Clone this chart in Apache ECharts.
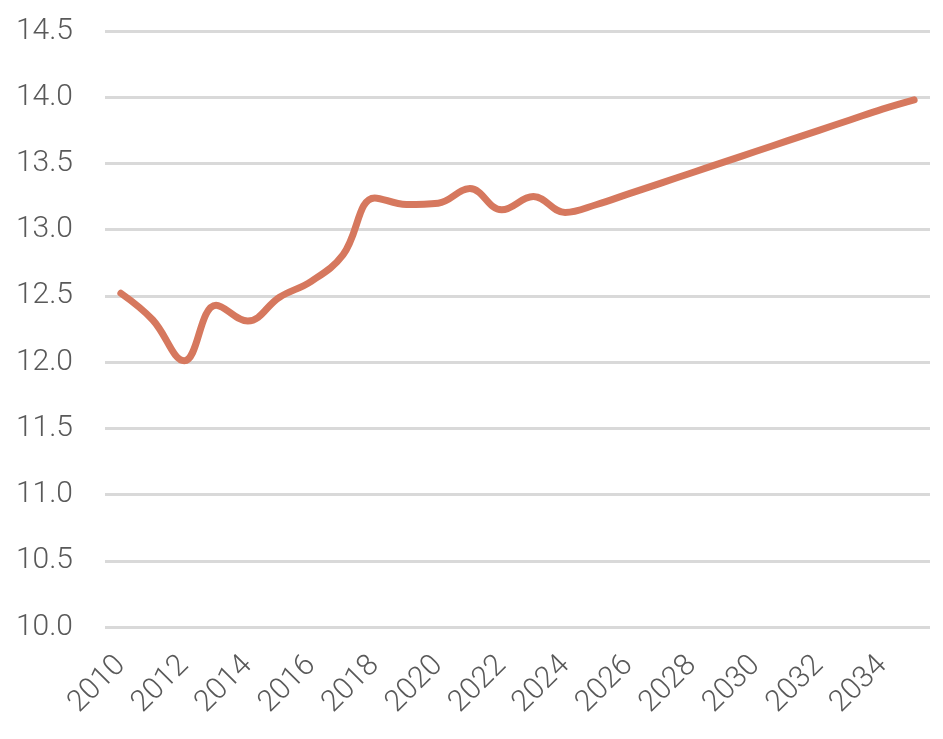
<!DOCTYPE html>
<html>
<head>
<meta charset="utf-8">
<script src="https://cdn.jsdelivr.net/npm/echarts@6/dist/echarts.min.js"></script>
<style>html,body{margin:0;padding:0;background:#fff}#c{width:943px;height:739px}</style>
</head>
<body>
<div id="c"></div>
<script>
const years = ['2010','2011','2012','2013','2014','2015','2016','2017','2018','2019','2020','2021','2022','2023','2024','2025','2026','2027','2028','2029','2030','2031','2032','2033','2034','2035'];
const values = [12.52,12.32,12.01,12.43,12.31,12.49,12.61,12.81,13.24,13.19,13.20,13.31,13.15,13.25,13.13,13.19,13.27,13.35,13.43,13.51,13.59,13.67,13.75,13.83,13.91,13.98];
const yMin = 10.0, yMax = 14.5, yStep = 0.5;

const chart = echarts.init(document.getElementById('c'), null, {renderer:'canvas'});
chart.setOption({
  animation: false,
  grid: {left:105, right:13, top:31, bottom:112, containLabel:false},
  xAxis: {
    type:'category', data: years, boundaryGap: true,
    axisLine:{show:false}, axisTick:{show:false},
    axisLabel:{interval:1, rotate:45, margin:34, color:'#595959', fontSize:30, fontFamily:'Roboto', fontWeight:300}
  },
  yAxis: {
    type:'value', min:yMin, max:yMax, interval:yStep,
    axisLine:{show:false}, axisTick:{show:false},
    axisLabel:{margin:32, color:'#595959', fontSize:30, fontFamily:'Roboto', fontWeight:300, formatter:v=>v.toFixed(1)},
    splitLine:{lineStyle:{color:'#d9d9d9', width:3}}
  },
  series: [{
    type:'line', data: values, smooth:0.4, symbol:'none',
    lineStyle:{color:'#D6785E', width:7, cap:'round', join:'round'}
  }]
});
</script>
</body>
</html>
